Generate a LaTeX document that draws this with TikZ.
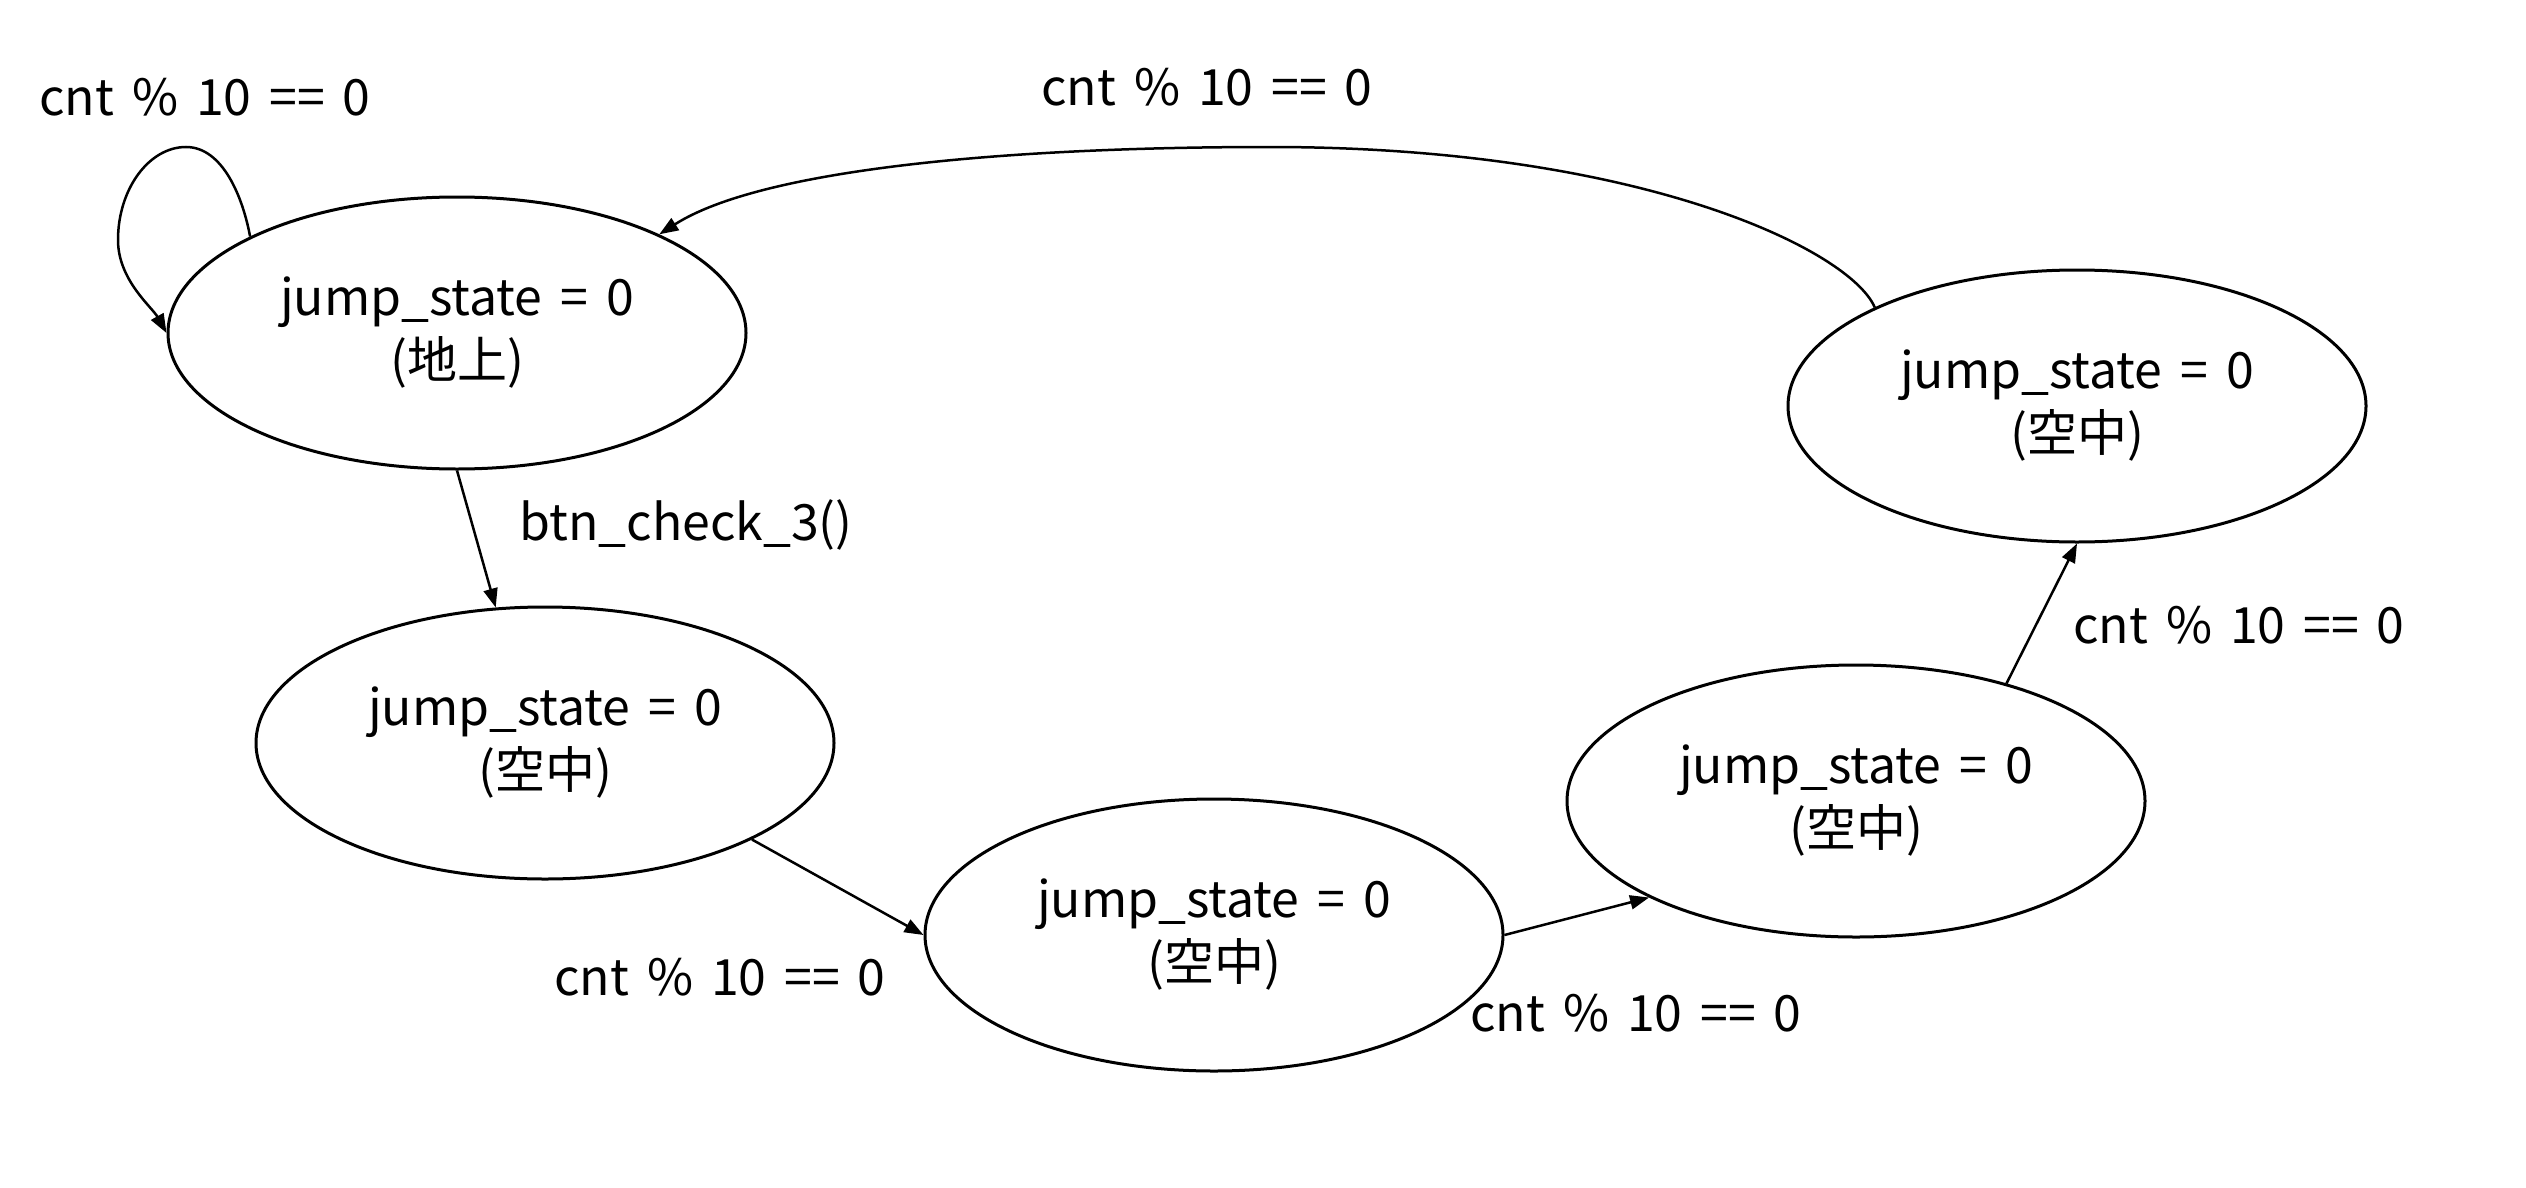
\documentclass[tikz,border=0pt]{standalone}
\usepackage{fontspec}
\setmainfont[WordSpace=1.6]{Noto Sans CJK JP}
\usetikzlibrary{arrows.meta,shapes.geometric}
\begin{document}
\begin{tikzpicture}[x=0.5pt,y=-0.5pt,
  state/.style={ellipse,draw,line width=1.5pt,minimum width=289pt,minimum height=136pt,
    inner sep=0pt,align=center,font=\fontsize{25}{31.5}\selectfont},
  lbl/.style={inner sep=0pt,font=\fontsize{25}{30}\selectfont},
  trans/.style={line width=1.25pt,-{Triangle[length=9.5pt,width=7pt]}}]
\useasboundingbox (0,0) rectangle (2526,1188);
\node[state] (E1) at (457,333) {jump\_state = 0\\(地上)};
\node[state] (E2) at (545,743) {jump\_state = 0\\(空中)};
\node[state] (E3) at (1214,935) {jump\_state = 0\\(空中)};
\node[state] (E4) at (1856,801) {jump\_state = 0\\(空中)};
\node[state] (E5) at (2077,406) {jump\_state = 0\\(空中)};
% labels
\node[lbl] (L1) at (205,97) {cnt \% 10 == 0};
\node[lbl] (L2) at (686,525) {btn\_check\_3()};
\node[lbl] (L3) at (720,977) {cnt \% 10 == 0};
\node[lbl] (L4) at (1636,1013) {cnt \% 10 == 0};
\node[lbl] (L5) at (2239,625) {cnt \% 10 == 0};
\node[lbl] (L6) at (1207,87) {cnt \% 10 == 0};
% transitions
\draw[trans] (E1.155) .. controls (243,198) and (223,147) .. (186,147)
  .. controls (149,147) and (118,189) .. (118,240)
  .. controls (118,280) and (152,307) .. (E1.west);
\draw[trans] (E1.south) -- (E2.110);
\draw[trans] (E2.-25) -- (E3.west);
\draw[trans] (E3.east) -- (E4.205);
\draw[trans] (E4.38) -- (E5.south);
\draw[trans] (E5.154) .. controls (1850,250) and (1640,147) .. (1270,147)
  .. controls (1000,147) and (760,170) .. (E1.26);
\end{tikzpicture}
\end{document}
